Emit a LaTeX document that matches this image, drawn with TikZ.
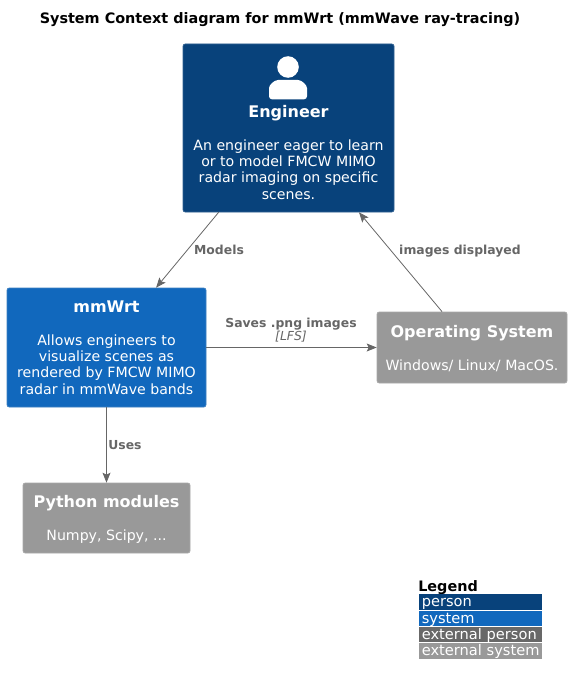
\documentclass[tikz,border=0pt]{standalone}
\usepackage{fontspec}
\setmainfont{DejaVu Sans}
\usetikzlibrary{arrows.meta}
\definecolor{personblue}{HTML}{08427B}
\definecolor{personedge}{HTML}{2F5F90}
\definecolor{systemblue}{HTML}{1168BD}
\definecolor{systemedge}{HTML}{3C7FC0}
\definecolor{extperson}{HTML}{686868}
\definecolor{extsystem}{HTML}{999999}
\definecolor{extedge}{HTML}{A8A8A8}
\definecolor{relgrey}{HTML}{666666}
\newcommand{\bodyfont}{\fontsize{10.6}{12.2}\selectfont}
\newcommand{\headfont}{\fontsize{12}{14}\selectfont\bfseries}
\tikzstyle{block} = [rectangle, rounded corners=1.6pt, line width=.5pt, text=white, align=center, inner sep=0pt, font=\bodyfont]
\tikzstyle{arrow} = [line width=.6pt, draw=relgrey, -{Stealth[length=7.5pt,width=6pt,inset=1.5pt]}]
\tikzstyle{rellabel} = [text=relgrey, font=\fontsize{9.3}{10.5}\selectfont\bfseries, inner sep=0pt, text height=7pt, text depth=2pt]
\tikzstyle{legendrow} = [anchor=west, minimum width=92.25pt, text width=88.5pt, inner sep=0pt, text height=9.4pt, text depth=2.2pt, text=white, align=left, font=\fontsize{10.95}{12}\selectfont]
\begin{document}
\begin{tikzpicture}[x=.75pt,y=-.75pt]
\useasboundingbox (0,0) rectangle (572,685);
\node (title) [font=\fontsize{10.8}{12}\selectfont\bfseries, inner sep=0pt] at (280,19.5) {System Context diagram for mmWrt (mmWave ray-tracing)};

\node (engineer) [block, minimum width=158.25pt, minimum height=126pt, fill=personblue, draw=personedge] at (288.5,128)
  {\rule{0pt}{36.25pt}\\[-3pt]{\headfont Engineer}\\[12.45pt]An engineer eager to learn\\or to model FMCW MIMO\\radar imaging on specific\\scenes.};
\node (mmwrt) [block, minimum width=149.25pt, minimum height=89.25pt, fill=systemblue, draw=systemedge] at (106.5,347.5)
  {{\headfont mmWrt}\\[12.5pt]Allows engineers to\\visualize scenes as\\rendered by FMCW MIMO\\radar in mmWave bands};
\node (os) [block, minimum width=142.5pt, minimum height=53.25pt, fill=extsystem, draw=extedge] at (472,347.5)
  {\rule{0pt}{10.6pt}{\headfont Operating System}\\[12.5pt]Windows/ Linux/ MacOS.};
\node (python) [block, minimum width=125.25pt, minimum height=52.5pt, fill=extsystem, draw=extedge] at (106.5,518)
  {\rule{0pt}{10.6pt}{\headfont Python modules}\\[12.5pt]Numpy, Scipy, ...};

% person icon
\fill[white] (288,67) circle (10.8);
\fill[white, rounded corners=2.2pt] (269,99.3) -- (269,91) arc (180:270:12 and 11) -- (295,80) arc (270:360:12 and 11) -- (307,99.3) -- cycle;

\draw [arrow] (engineer) -- (mmwrt);
\draw [arrow] (os) -- (engineer);
\draw [arrow] (mmwrt) -- (os);
\draw [arrow] (mmwrt) -- (python);

\node (lmodels) [rellabel] at (219,250.7) {Models};
\node (limages) [rellabel] at (460,250.7) {images displayed};
\node (lsaves) [rellabel] at (291,323.7) {Saves .png images};
\node (llfs) [text=relgrey, inner sep=0pt, font=\fontsize{9.3}{10.5}\selectfont\itshape] at (291,337) {[LFS]};
\node (luses) [rellabel] at (125,445.7) {Uses};

% legend
\node (legend) [anchor=west, inner sep=0pt, font=\fontsize{10.8}{12}\selectfont\bfseries] at (418,588) {Legend};
\node (lperson) [legendrow, fill=personblue] at (419,602) {person};
\node (lsystem) [legendrow, fill=systemblue] at (419,618.5) {system};
\node (lextperson) [legendrow, fill=extperson] at (419,634.5) {external person};
\node (lextsystem) [legendrow, fill=extsystem] at (419,651) {external system};
\end{tikzpicture}
\end{document}
